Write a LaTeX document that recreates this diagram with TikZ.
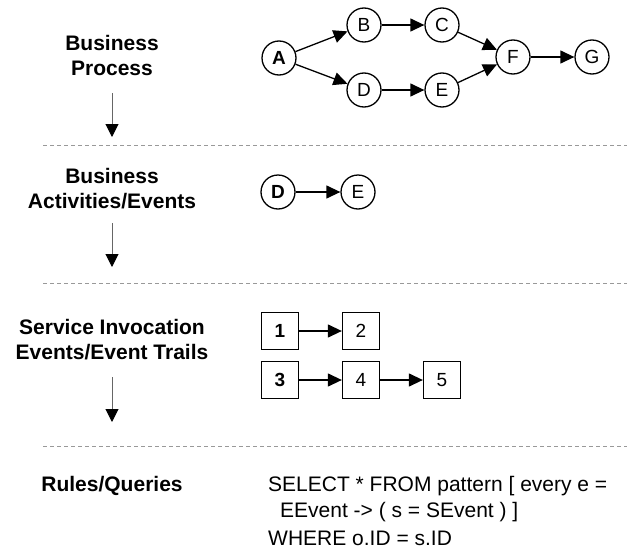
\documentclass[tikz,border=0pt]{standalone}
\usepackage{fontspec}
\setmainfont{Liberation Sans}
\usetikzlibrary{arrows.meta}
\begin{document}
\begin{tikzpicture}[x=1pt,y=-1pt,
  every node/.style={font=\fontsize{19}{19}\selectfont, inner sep=0pt},
  ev/.style={circle, draw, line width=1.3pt, minimum size=34pt, fill=white},
  inv/.style={rectangle, draw, line width=1.3pt, minimum size=37pt, fill=white},
  flow/.style={line width=1.3pt, -{Triangle[length=14pt,width=13pt]}},
  level/.style={font=\bfseries\fontsize{21}{25}\selectfont, align=center, anchor=north},
  down/.style={draw=black!60, line width=1pt, -{Triangle[length=13pt,width=13pt,color=black,fill=black]}},
  sep/.style={draw=black!40, line width=1pt, dash pattern=on 4pt off 3pt},
  query/.style={font=\fontsize{21}{21}\selectfont, anchor=base west}]

\useasboundingbox (0,0) rectangle (627,549);

% level labels
\node[level] (lp) at (112,35)  {Business\\Process};
\node[level] (la) at (112,168) {Business\\Activities/Events};
\node[level] (ls) at (112,319) {Service Invocation\\Events/Event Trails};
\node[level] (lr) at (112,476) {Rules/Queries};

% refinement arrows between levels
\coordinate (d1s) at (112,93);  \coordinate (d1e) at (112,137);
\coordinate (d2s) at (112,223); \coordinate (d2e) at (112,267);
\coordinate (d3s) at (112,377); \coordinate (d3e) at (112,422);
\draw[down] (d1s) -- (d1e);
\draw[down] (d2s) -- (d2e);
\draw[down] (d3s) -- (d3e);

% separators
\draw[sep] (43,145) -- (627,145);
\draw[sep] (43,283) -- (627,283);
\draw[sep] (43,446) -- (627,446);

% business process
\node[ev] (A) at (279,58) {\bfseries A};
\node[ev] (B) at (364,25) {B};
\node[ev] (C) at (442,25) {C};
\node[ev] (D) at (364,90) {D};
\node[ev] (E) at (442,90) {E};
\node[ev] (F) at (513,57) {F};
\node[ev] (G) at (592,57) {G};
\draw[flow] (A) -- (B);
\draw[flow] (A) -- (D);
\draw[flow] (B) -- (C);
\draw[flow] (D) -- (E);
\draw[flow] (C) -- (F);
\draw[flow] (E) -- (F);
\draw[flow] (F) -- (G);

% business activities
\node[ev] (aD) at (278,192) {\bfseries D};
\node[ev] (aE) at (358,192) {E};
\draw[flow] (aD) -- (aE);

% service invocation event trails
\node[inv] (s1) at (280,331) {\bfseries 1};
\node[inv] (s2) at (361,331) {2};
\node[inv] (s3) at (280,380) {\bfseries 3};
\node[inv] (s4) at (361,380) {4};
\node[inv] (s5) at (442,380) {5};
\draw[flow] (s1) -- (s2);
\draw[flow] (s3) -- (s4);
\draw[flow] (s4) -- (s5);

% query
\node[query] (q1) at (268,491) {SELECT * FROM pattern [ every e =};
\node[query] (q2) at (280,517) {EEvent -> ( s = SEvent ) ]};
\node[query] (q3) at (268,545) {WHERE o.ID = s.ID};
\end{tikzpicture}
\end{document}
